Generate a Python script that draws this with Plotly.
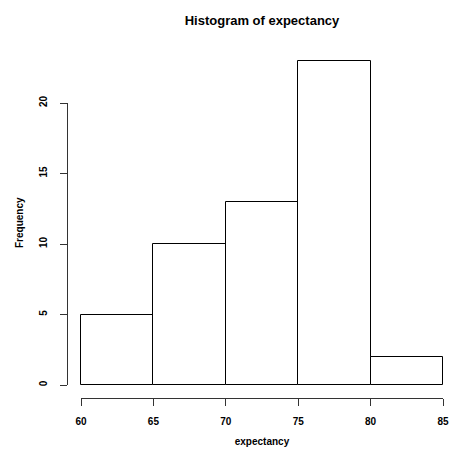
import plotly.graph_objects as go

# Data
bin_starts = [60, 65, 70, 75, 80]
bin_width = 5
counts = [5, 10, 13, 23, 2]
x_ticks = [60, 65, 70, 75, 80, 85]
y_ticks = [0, 5, 10, 15, 20]

W, H = 463, 458
ml, mr, mt, mb = 67, 14, 48, 60
pw, ph = W - ml - mr, H - mt - mb

font_fam = "Liberation Sans, Arial, sans-serif"

# pixel geometry of the reference (x=60 -> 81px, x=85 -> 443px; y=0 -> 385px, y=20 -> 103px)
x_px0, x_px1 = 81, 443
y_px0, y_px20 = 385, 103
xppu = (x_px1 - x_px0) / (x_ticks[-1] - x_ticks[0])
yppu = (y_px0 - y_px20) / 20.0

fig = go.Figure()
fig.add_trace(go.Bar(
    x=[s + bin_width / 2 for s in bin_starts],
    y=counts,
    width=bin_width,
    marker=dict(color="white", line=dict(color="black", width=1)),
    xaxis="x2", yaxis="y",
    hoverinfo="x+y", showlegend=False,
))
# invisible helper trace so the tick axes (x, y2) are drawn
fig.add_trace(go.Scatter(
    x=[x_ticks[0]], y=[y_ticks[0]], mode="markers",
    marker=dict(opacity=0), xaxis="x", yaxis="y2",
    hoverinfo="skip", showlegend=False,
))

tick_font = dict(family=font_fam, size=10, color="black", weight="bold")

bar_x_range = [x_ticks[0] - (x_px0 - ml) / xppu, x_ticks[-1] + (W - mr - x_px1) / xppu]
bar_y_range = [-(H - mb - y_px0) / yppu, (y_px0 - mt) / yppu]

fig.update_layout(
    width=W, height=H,
    margin=dict(l=ml, r=mr, t=mt, b=mb),
    paper_bgcolor="white", plot_bgcolor="rgba(0,0,0,0)",
    title=dict(text="Histogram of expectancy", x=262 / W, xref="container",
               xanchor="center", y=1 - 20 / H, yref="container", yanchor="middle",
               font=dict(family=font_fam, size=13, color="black", weight="bold")),
    bargap=0,
    xaxis=dict(
        domain=[(x_px0 - ml) / pw, (x_px1 - ml) / pw], range=[x_ticks[0], x_ticks[-1]],
        anchor="free", position=0, automargin=False,
        showline=True, linecolor="#333", linewidth=1,
        ticks="outside", ticklen=7, tickcolor="#333", tickwidth=1,
        tickvals=x_ticks, ticktext=[str(v) for v in x_ticks],
        tickfont=tick_font, ticklabelstandoff=7,
        showgrid=False, zeroline=False,
        title=dict(text="expectancy", standoff=11,
                   font=dict(family=font_fam, size=10, color="black", weight="bold")),
    ),
    xaxis2=dict(domain=[0, 1], range=bar_x_range, visible=False, automargin=False,
                anchor="y", showgrid=False, zeroline=False),
    yaxis=dict(
        domain=[0, 1], range=bar_y_range, visible=False, automargin=False,
        anchor="x2", showgrid=False, zeroline=False,
    ),
    yaxis2=dict(
        domain=[(H - mb - y_px0) / ph, (H - mb - y_px20) / ph], range=[y_ticks[0], y_ticks[-1]],
        anchor="free", position=0, automargin=False,
        showline=True, linecolor="#333", linewidth=1,
        ticks="outside", ticklen=7, tickcolor="#333", tickwidth=1,
        tickvals=y_ticks, ticktext=[str(v) for v in y_ticks],
        tickangle=-90, tickfont=tick_font, ticklabelstandoff=9,
        showgrid=False, zeroline=False,
    ),
    annotations=[dict(
        text="Frequency", textangle=-90, xref="paper", yref="paper",
        x=(19 - ml) / pw, y=(H - mb - 223) / ph, xanchor="center", yanchor="middle",
        showarrow=False, font=dict(family=font_fam, size=10, color="black", weight="bold"),
    )],
)

fig.write_html("out.html", config={"displayModeBar": False},
               post_script="document.body.style.margin='0';")
